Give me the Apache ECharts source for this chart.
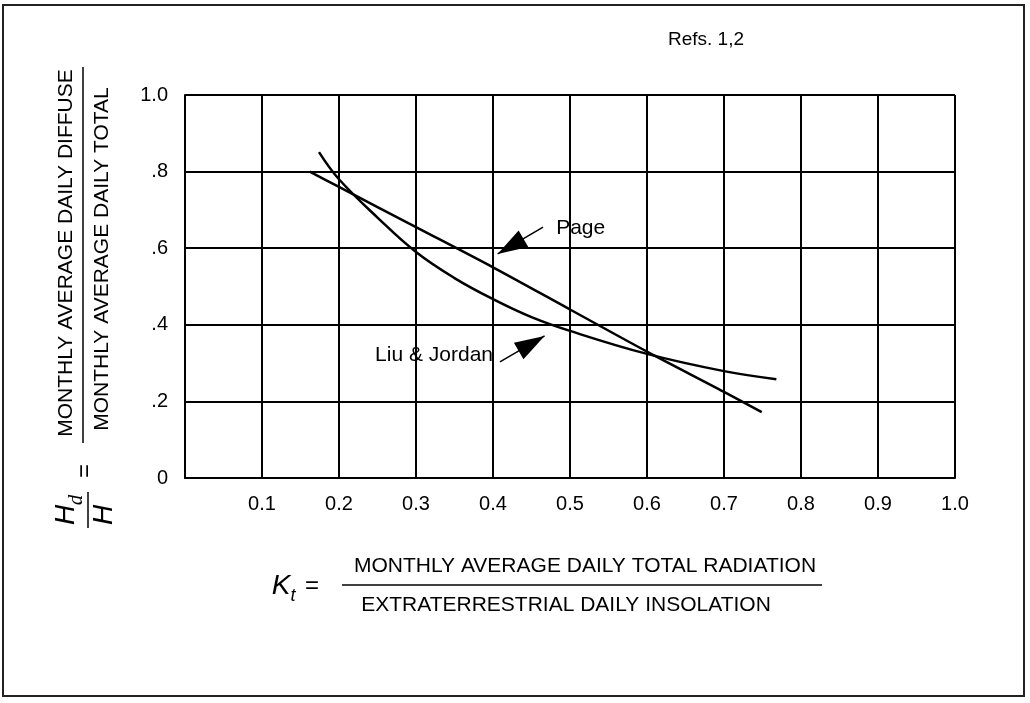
<!DOCTYPE html>
<html>
<head>
<meta charset="utf-8">
<script src="https://cdn.jsdelivr.net/npm/echarts@6/dist/echarts.min.js"></script>
<style>
  html, body { margin: 0; padding: 0; background: #fff; }
  #chart { width: 1030px; height: 703px; }
</style>
</head>
<body>
<div id="chart"></div>
<script>
// values (Kt on x, Hd/H on y)
var pageKt = [0.162, 0.2, 0.3, 0.4, 0.5, 0.6, 0.7, 0.749];
var pageHd = [0.80, 0.76, 0.655, 0.55, 0.44, 0.33, 0.225, 0.172];

var ljKt = [0.174, 0.2, 0.25, 0.3, 0.35, 0.4, 0.45, 0.5, 0.6, 0.7, 0.768];
var ljHd = [0.851, 0.78, 0.68, 0.59, 0.522, 0.467, 0.42, 0.384, 0.324, 0.279, 0.258];

// annotation arrows: [from, to] in data units
var pageArrow = [[0.465, 0.655], [0.406, 0.585]];
var ljArrow = [[0.409, 0.303], [0.467, 0.371]];
var pageLabelAt = [0.482, 0.653];
var ljLabelAt = [0.4, 0.321];

var xTickLabels = ['', '0.1', '0.2', '0.3', '0.4', '0.5', '0.6', '0.7', '0.8', '0.9', '1.0'];
var yTickLabels = ['0', '.2', '.4', '.6', '.8', '1.0'];

function pairs(xs, ys) {
    return xs.map(function (x, i) { return [x, ys[i]]; });
}

var font = '"Liberation Sans", Arial, Helvetica, sans-serif';
var black = '#000';

function arrowLine(a) {
    return [
        { coord: a[0], symbol: 'none' },
        { coord: a[1], symbol: 'triangle', symbolSize: [19, 30], symbolOffset: [0, '50%'] }
    ];
}

var chart = echarts.init(document.getElementById('chart'));

var option = {
    backgroundColor: '#fff',
    animation: false,
    grid: { left: 185, right: 75, top: 95, bottom: 225, containLabel: false },
    xAxis: {
        type: 'value', min: 0, max: 1, interval: 0.1,
        axisLine: { show: true, lineStyle: { color: black, width: 2 } },
        axisTick: { show: false },
        splitLine: { show: true, lineStyle: { color: black, width: 2 } },
        axisLabel: {
            color: black, fontFamily: font, fontSize: 20, margin: 16,
            formatter: function (v) { return xTickLabels[Math.round(v * 10)]; }
        }
    },
    yAxis: {
        type: 'value', min: 0, max: 1, interval: 0.2,
        axisLine: { show: true, lineStyle: { color: black, width: 2 } },
        axisTick: { show: false },
        splitLine: { show: true, lineStyle: { color: black, width: 2 } },
        axisLabel: {
            color: black, fontFamily: font, fontSize: 20, margin: 17,
            formatter: function (v) { return yTickLabels[Math.round(v / 0.2)]; }
        }
    },
    series: [
        {
            name: 'Page', type: 'line', smooth: 0.3, symbol: 'none',
            data: pairs(pageKt, pageHd),
            lineStyle: { color: black, width: 2.5 },
            markLine: {
                silent: true, symbol: ['none', 'triangle'],
                lineStyle: { color: black, width: 1.5, type: 'solid' },
                itemStyle: { color: black },
                label: { show: false },
                data: [arrowLine(pageArrow)]
            },
            markPoint: {
                symbol: 'circle', symbolSize: 0,
                label: { show: true, position: 'right', distance: 0, color: black, fontFamily: font, fontSize: 21, formatter: '{b}' },
                data: [{ name: 'Page', coord: pageLabelAt }]
            }
        },
        {
            name: 'Liu & Jordan', type: 'line', smooth: 0.4, symbol: 'none',
            data: pairs(ljKt, ljHd),
            lineStyle: { color: black, width: 2.5 },
            markLine: {
                silent: true, symbol: ['none', 'triangle'],
                lineStyle: { color: black, width: 1.5, type: 'solid' },
                itemStyle: { color: black },
                label: { show: false },
                data: [arrowLine(ljArrow)]
            },
            markPoint: {
                symbol: 'circle', symbolSize: 0,
                label: { show: true, position: 'left', distance: 0, color: black, fontFamily: font, fontSize: 21, formatter: '{b}' },
                data: [{ name: 'Liu & Jordan', coord: ljLabelAt }]
            }
        }
    ],
    graphic: [
        // outer frame
        { type: 'rect', shape: { x: 3, y: 5, width: 1021, height: 691 }, style: { fill: 'none', stroke: '#222', lineWidth: 2 } },
        { type: 'text', x: 668, y: 40, style: { text: 'Refs. 1,2', font: '19px ' + font, fill: black, verticalAlign: 'middle' } },

        // y axis title: Hd/H = diffuse / total
        { type: 'text', x: 66, y: 253, rotation: Math.PI / 2, style: { text: 'MONTHLY AVERAGE DAILY DIFFUSE', font: '21px ' + font, fill: black, align: 'center', verticalAlign: 'middle' } },
        { type: 'line', shape: { x1: 83, y1: 67, x2: 83, y2: 443 }, style: { stroke: black, lineWidth: 1.5 } },
        { type: 'text', x: 102, y: 259, rotation: Math.PI / 2, style: { text: 'MONTHLY AVERAGE DAILY TOTAL', font: '21px ' + font, fill: black, align: 'center', verticalAlign: 'middle' } },
        { type: 'text', x: 85, y: 471, rotation: Math.PI / 2, style: { text: '=', font: '24px ' + font, fill: black, align: 'center', verticalAlign: 'middle' } },
        { type: 'text', x: 66, y: 515, rotation: Math.PI / 2, style: { text: 'H', font: 'italic 28px ' + font, fill: black, align: 'center', verticalAlign: 'middle' } },
        { type: 'text', x: 76, y: 500, rotation: Math.PI / 2, style: { text: 'd', font: 'italic 21px "Liberation Serif", serif', fill: black, align: 'center', verticalAlign: 'middle' } },
        { type: 'line', shape: { x1: 88, y1: 492, x2: 88, y2: 528 }, style: { stroke: black, lineWidth: 1.5 } },
        { type: 'text', x: 104, y: 515, rotation: Math.PI / 2, style: { text: 'H', font: 'italic 28px ' + font, fill: black, align: 'center', verticalAlign: 'middle' } },

        // x axis title: Kt = total / extraterrestrial
        { type: 'text', x: 281, y: 586, style: { text: 'K', font: 'italic 28px ' + font, fill: black, align: 'center', verticalAlign: 'middle' } },
        { type: 'text', x: 293, y: 596, style: { text: 't', font: 'italic 18px ' + font, fill: black, align: 'center', verticalAlign: 'middle' } },
        { type: 'text', x: 312, y: 586, style: { text: '=', font: '24px ' + font, fill: black, align: 'center', verticalAlign: 'middle' } },
        { type: 'text', x: 585, y: 566, style: { text: 'MONTHLY AVERAGE DAILY TOTAL RADIATION', font: '21px ' + font, fill: black, align: 'center', verticalAlign: 'middle' } },
        { type: 'line', shape: { x1: 342, y1: 585, x2: 822, y2: 585 }, style: { stroke: black, lineWidth: 1.5 } },
        { type: 'text', x: 566, y: 605, style: { text: 'EXTRATERRESTRIAL DAILY INSOLATION', font: '21px ' + font, fill: black, align: 'center', verticalAlign: 'middle' } }
    ]
};

chart.setOption(option);
</script>
</body>
</html>
